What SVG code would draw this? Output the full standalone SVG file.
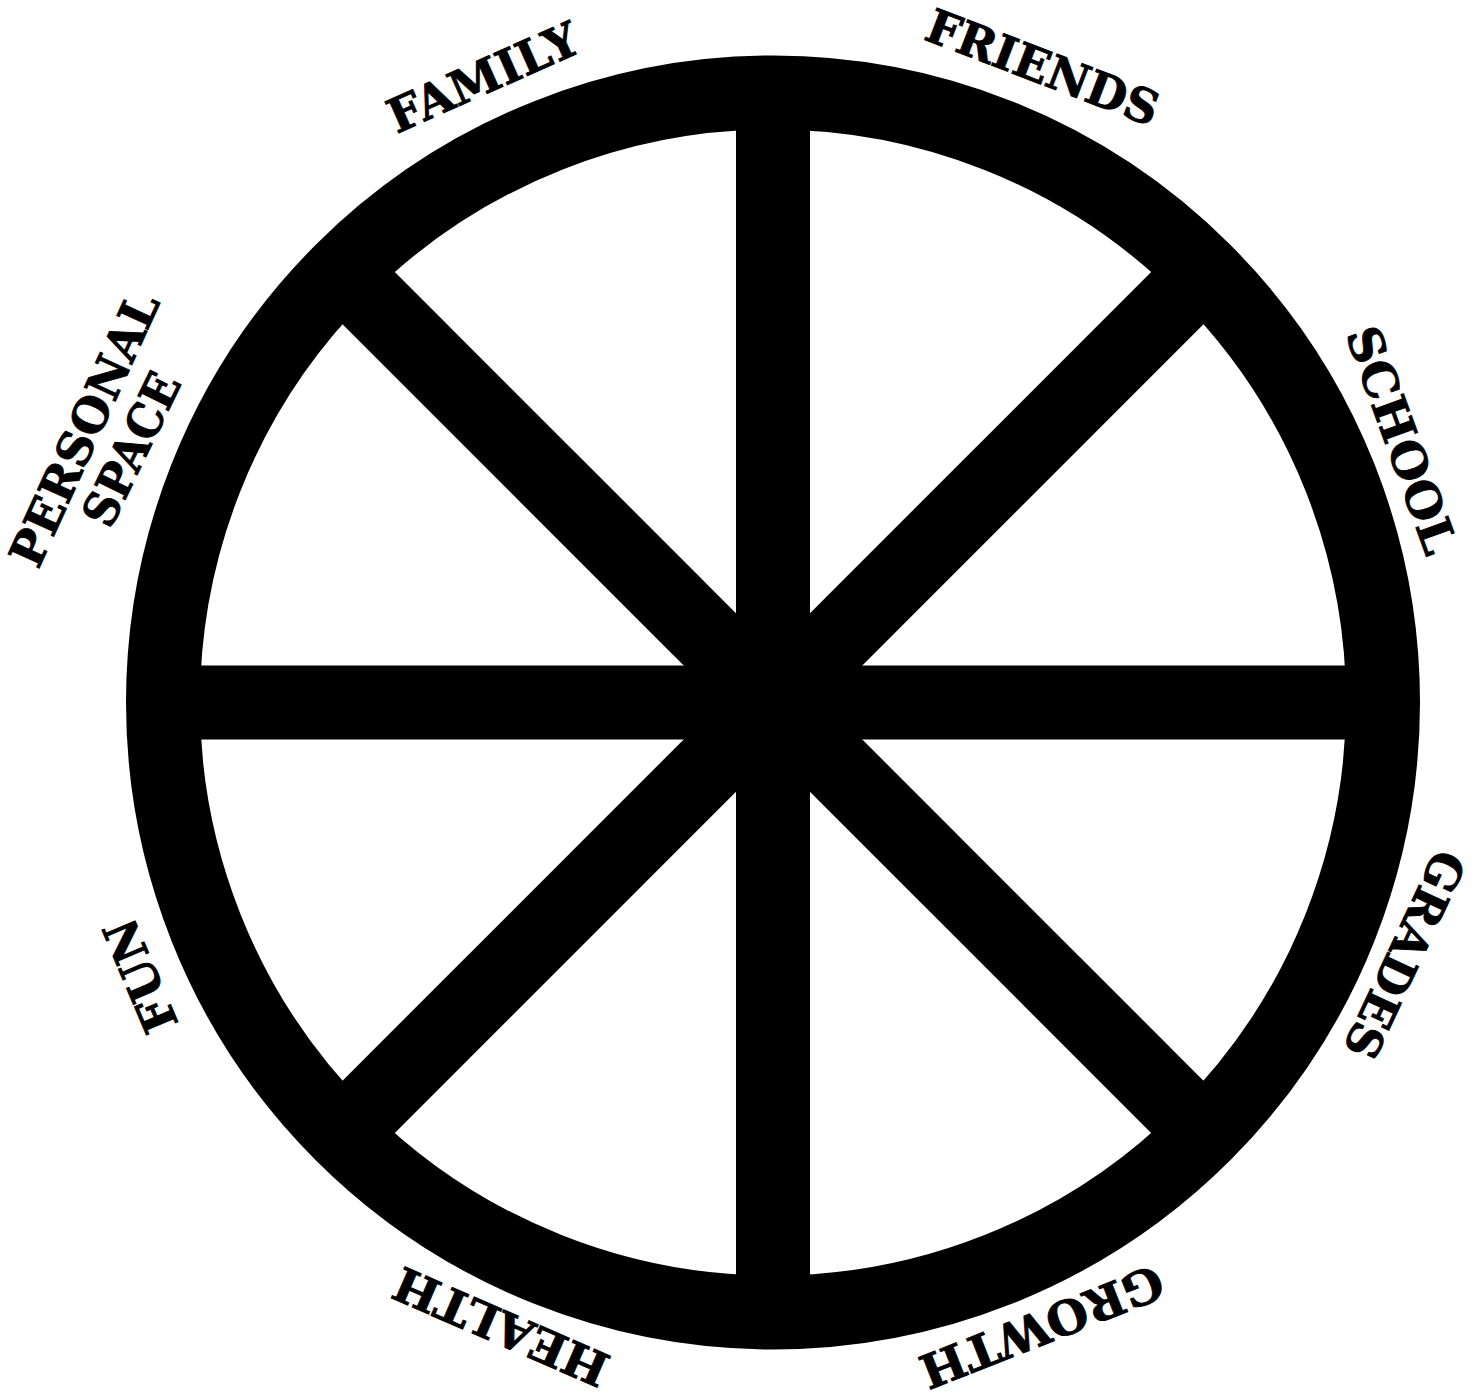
<svg xmlns="http://www.w3.org/2000/svg" width="1481" height="1397" viewBox="0 0 1481 1397">
  <style>
    .rim { fill: none; stroke: #000; stroke-width: 74; }
    .spoke { stroke: #000; stroke-width: 74; stroke-linecap: butt; }
    .lbl { font-family: "DejaVu Serif", "Liberation Serif", serif; font-weight: bold; font-size: 47px; fill: #000; stroke: #000; stroke-width: 0.9; text-anchor: middle; }
  </style>
  <rect width="1481" height="1397" fill="#fff"/>
  <g id="wheel">
    <circle class="rim" cx="773" cy="702.5" r="610"/>
  </g>
  <g id="connectors">
    <line class="spoke" x1="773" y1="92.5" x2="773" y2="1312.5"/>
    <line class="spoke" x1="163" y1="702.5" x2="1383" y2="702.5"/>
    <line class="spoke" x1="341.7" y1="271.2" x2="1204.3" y2="1133.8"/>
    <line class="spoke" x1="1204.3" y1="271.2" x2="341.7" y2="1133.8"/>
  </g>
  <g id="label-family" transform="translate(483,77) rotate(-24)">
    <text class="lbl" x="0" y="17" textLength="204" lengthAdjust="spacingAndGlyphs">FAMILY</text>
  </g>
  <g id="label-friends" transform="translate(1043,67) rotate(21)">
    <text class="lbl" x="0" y="17" textLength="245" lengthAdjust="spacingAndGlyphs">FRIENDS</text>
  </g>
  <g id="label-school" transform="translate(1402,440) rotate(70)">
    <text class="lbl" x="0" y="17" textLength="238" lengthAdjust="spacingAndGlyphs">SCHOOL</text>
  </g>
  <g id="label-grades" transform="translate(1405,955) rotate(115)">
    <text class="lbl" x="0" y="17" textLength="223" lengthAdjust="spacingAndGlyphs">GRADES</text>
  </g>
  <g id="label-growth" transform="translate(1042,1327) rotate(158.5)">
    <text class="lbl" x="0" y="17" textLength="257" lengthAdjust="spacingAndGlyphs">GROWTH</text>
  </g>
  <g id="label-health" transform="translate(501,1327) rotate(203.5)">
    <text class="lbl" x="0" y="17" textLength="229" lengthAdjust="spacingAndGlyphs">HEALTH</text>
  </g>
  <g id="label-fun" transform="translate(140,976) rotate(-113)">
    <text class="lbl" x="0" y="17" textLength="118" lengthAdjust="spacingAndGlyphs">FUN</text>
  </g>
  <g id="label-personal-space">
    <text class="lbl" transform="translate(84,429) rotate(-65.5)" x="0" y="17" textLength="295" lengthAdjust="spacingAndGlyphs">PERSONAL</text>
    <text class="lbl" transform="translate(131,449) rotate(-64)" x="0" y="17" textLength="164" lengthAdjust="spacingAndGlyphs">SPACE</text>
  </g>
</svg>
